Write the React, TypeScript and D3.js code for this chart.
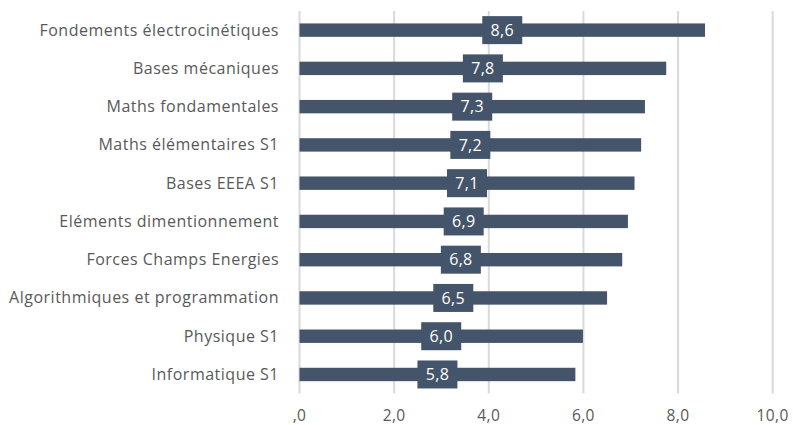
import React from "react";
import * as d3 from "d3";

const categories = [
  "Fondements électrocinétiques",
  "Bases mécaniques",
  "Maths fondamentales",
  "Maths élémentaires S1",
  "Bases EEEA S1",
  "Eléments dimentionnement",
  "Forces Champs Energies",
  "Algorithmiques et programmation",
  "Physique S1",
  "Informatique S1",
];
const values = [8.57, 7.75, 7.3, 7.22, 7.08, 6.94, 6.82, 6.5, 5.99, 5.83];
const ticks = [0, 2, 4, 6, 8, 10];
const tickLabels = [",0", "2,0", "4,0", "6,0", "8,0", "10,0"];

const W = 793;
const H = 425;
const FONT = "'Open Sans', sans-serif";
const BAR = "#44546A";

export default function App() {
  const x = d3.scaleLinear().domain([0, 10]).range([299.5, 772.7]);
  const y = d3.scaleBand().domain(categories).range([11, 393.6]).paddingInner(0.65).paddingOuter(0.325);
  const fmt = (v: number) => v.toFixed(1).replace(".", ",");
  return (
    <svg width={W} height={H} style={{ position: "absolute", left: 0, top: 0 }}>
      <rect width={W} height={H} fill="#fff" />
      {ticks.map((t) => (
        <line key={t} x1={x(t)} x2={x(t)} y1={11} y2={393.6} stroke="#d9d9d9" strokeWidth={2} />
      ))}
      {categories.map((c, i) => {
        const yc = (y(c) as number) + y.bandwidth() / 2;
        const mid = x(values[i] / 2);
        return (
          <g key={c}>
            <rect x={x(0)} y={y(c)} width={x(values[i]) - x(0)} height={y.bandwidth()} fill={BAR} />
            <rect x={mid - 20} y={yc - 14} width={40} height={28} fill={BAR} />
            <text x={mid} y={yc + 5.8} textAnchor="middle" fill="#fff" fontFamily={FONT} fontSize={16} letterSpacing={0.3}>
              {fmt(values[i])}
            </text>
            <text x={279} y={yc + 5.5} textAnchor="end" fill="#595959" fontFamily={FONT} fontSize={16} letterSpacing={0.5}>
              {c}
            </text>
          </g>
        );
      })}
      {ticks.map((t, i) => (
        <text key={t} x={x(t)} y={420.5} textAnchor="middle" fill="#595959" fontFamily={FONT} fontSize={15.5} letterSpacing={0.4}>
          {tickLabels[i]}
        </text>
      ))}
    </svg>
  );
}
